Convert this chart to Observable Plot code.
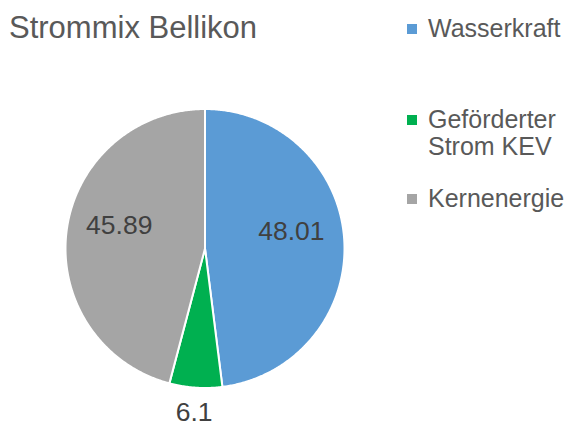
<!DOCTYPE html>
<html><head><meta charset="utf-8">
<script src="https://cdn.jsdelivr.net/npm/d3@7"></script>
<script src="https://cdn.jsdelivr.net/npm/@observablehq/plot@0.6"></script>
<style>
html,body{margin:0;padding:0;background:#fff}
body{font-family:"Liberation Sans",Arial,sans-serif}
#wrap{position:relative;width:570px;height:428px;overflow:hidden}
#chart{position:absolute;left:0;top:0}
#title{position:absolute;left:9px;top:12px;font-size:31px;line-height:31px;color:#595959;white-space:nowrap}
.leg{position:absolute;left:407px;font-size:25px;line-height:27px;color:#595959}
.leg .sw{position:absolute;left:0;width:10px;height:10px}
.leg .tx{position:absolute;left:21px;white-space:nowrap}
</style>
</head><body>
<div id="wrap">
  <div id="chart"></div>
  <div id="title">Strommix Bellikon</div>
  <div id="legend"></div>
</div>
<script>
const title = "Strommix Bellikon";
const categories = ["Wasserkraft", "Geförderter Strom KEV", "Kernenergie"];
const legendLines = [["Wasserkraft"], ["Geförderter", "Strom KEV"], ["Kernenergie"]];
const values = [48.01, 6.1, 45.89];
const valueLabels = ["48.01", "6.1", "45.89"];
const colors = ["#5B9BD5", "#00B050", "#A5A5A5"];

// layout (pixels)
const W = 570, H = 428, CX = 204.5, CY = 248, R = 139.5;

const rows = categories.map((c, i) => ({cat: c, value: values[i], label: valueLabels[i]}));
const arcs = d3.pie().sort(null).value(d => d.value)(rows);

// slice outlines (unit circle, angle clockwise from 12 o'clock)
const pts = [];
for (const a of arcs) {
  const n = Math.max(2, Math.ceil((a.endAngle - a.startAngle) / (Math.PI / 360)));
  pts.push({cat: a.data.cat, x: 0, y: 0});
  for (let k = 0; k <= n; k++) {
    const t = a.startAngle + (a.endAngle - a.startAngle) * k / n;
    pts.push({cat: a.data.cat, x: Math.sin(t), y: Math.cos(t)});
  }
}

const labelRows = arcs.map(a => {
  const m = (a.startAngle + a.endAngle) / 2;
  const outside = a.data.value < 10;
  const r = outside ? 1.175 : 0.62;
  return {x: Math.sin(m) * r, y: Math.cos(m) * r, text: a.data.label, outside};
});

const plot = Plot.plot({
  width: W, height: H, margin: 0,
  x: {domain: [-CX / R, (W - CX) / R], axis: null},
  y: {domain: [-(H - CY) / R, CY / R], axis: null},
  color: {domain: categories, range: colors},
  style: {fontFamily: '"Liberation Sans", Arial, sans-serif', background: "transparent"},
  marks: [
    Plot.line(pts, {x: "x", y: "y", z: "cat", fill: "cat", stroke: "white", strokeWidth: 2, curve: "linear-closed", strokeLinejoin: "round"}),
    Plot.text(labelRows.filter(d => !d.outside), {x: "x", y: "y", text: "text", fill: "#404040", fontSize: 26.5, dy: -12}),
    Plot.text(labelRows.filter(d => d.outside), {x: "x", y: "y", text: "text", fill: "#404040", fontSize: 26.5})
  ]
});
document.getElementById("chart").appendChild(plot);

// legend
const legTops = [15, 106, 185];
const leg = document.getElementById("legend");
categories.forEach((c, i) => {
  const d = document.createElement("div");
  d.className = "leg";
  d.style.top = legTops[i] + "px";
  const sw = document.createElement("div");
  sw.className = "sw";
  sw.style.background = colors[i];
  sw.style.top = "9px";
  d.appendChild(sw);
  const tx = document.createElement("div");
  tx.className = "tx";
  tx.innerHTML = legendLines[i].join("<br>");
  d.appendChild(tx);
  leg.appendChild(d);
});
</script>
</body></html>
